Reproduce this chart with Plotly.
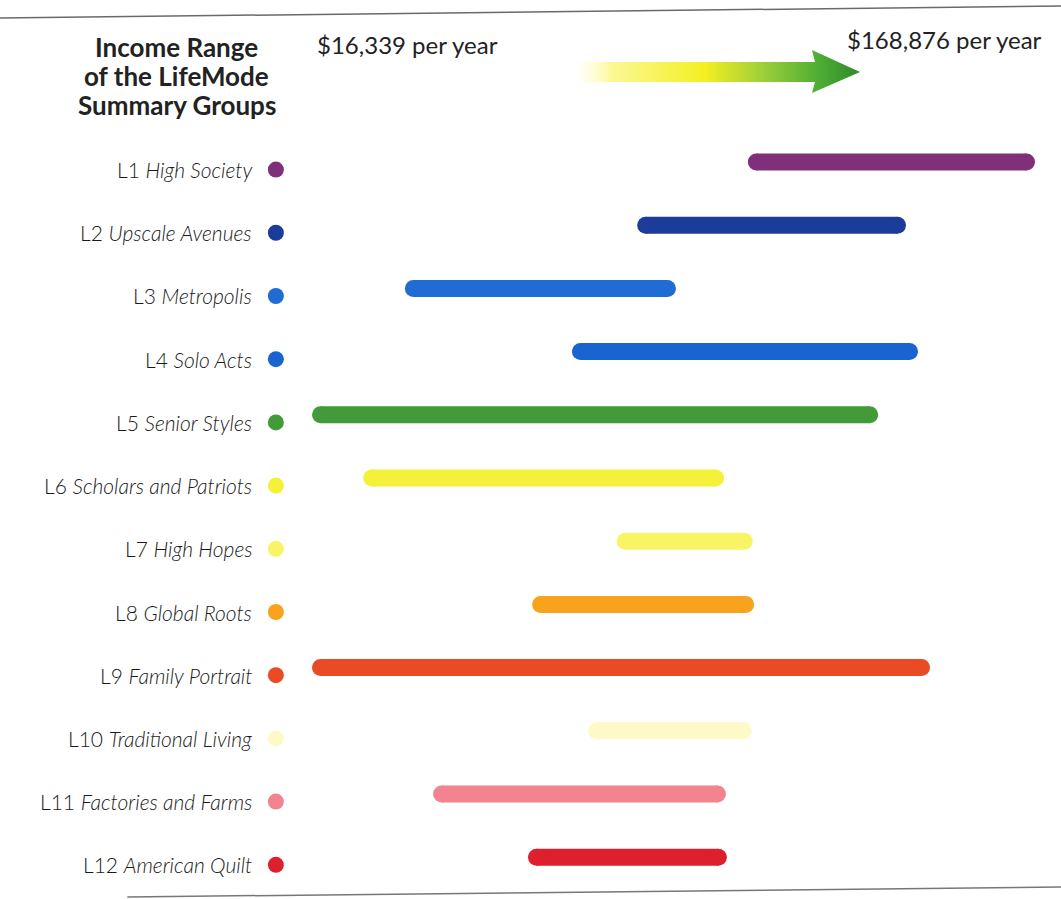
import plotly.graph_objects as go

# LifeMode summary groups and their income ranges (dollars per year)
groups = ["L1", "L2", "L3", "L4", "L5", "L6", "L7", "L8", "L9", "L10", "L11", "L12"]
names = [
    "High Society", "Upscale Avenues", "Metropolis", "Solo Acts", "Senior Styles",
    "Scholars and Patriots", "High Hopes", "Global Roots", "Family Portrait",
    "Traditional Living", "Factories and Farms", "American Quilt",
]
income_low = [110500, 86600, 36400, 72500, 16339, 27400, 82200, 63900, 16339, 76000, 42500, 63000]
income_high = [168876, 141000, 91300, 143600, 135000, 101700, 107900, 108200, 146200, 107700, 102100, 102300]
colors = [
    "#80307a", "#1b3c98", "#1f6cd4", "#1a64d2", "#429b38", "#f5f03a",
    "#f8f466", "#f8a21e", "#e94b24", "#fdfac8", "#f3848f", "#de1f2d",
]
title_lines = ["Income Range", "of the LifeMode", "Summary Groups"]
min_label = "$16,339 per year"
max_label = "$168,876 per year"

W, H = 1061, 899
rows = list(range(len(groups)))
label_drop = 0.12  # labels/dots sit a touch below the bars (scan tilt)

fig = go.Figure()

# range bars with round ends
for i, g in enumerate(groups):
    fig.add_trace(go.Scatter(
        x=[income_low[i], income_high[i]], y=[rows[i], rows[i]],
        mode="lines+markers",
        line=dict(color=colors[i], width=17),
        marker=dict(color=colors[i], size=17, line=dict(width=0)),
        hoverinfo="skip", showlegend=False,
    ))

# colour dots next to the labels
fig.add_trace(go.Scatter(
    x=[0.26] * len(groups), y=[r + label_drop for r in rows],
    xaxis="x2", yaxis="y",
    mode="markers",
    marker=dict(color=colors, size=16, line=dict(width=0)),
    hoverinfo="skip", showlegend=False,
))

# gradient arrow at the top
ax = [0.5448, 0.7681, 0.7653, 0.8106, 0.7653, 0.7681, 0.5448, 0.5448]
ay = [0.9310, 0.9310, 0.9444, 0.9199, 0.8966, 0.9088, 0.9088, 0.9310]
fig.add_trace(go.Scatter(
    x=ax, y=ay, xaxis="x2", yaxis="y2",
    mode="lines", fill="toself", line=dict(width=0),
    fillgradient=dict(
        type="horizontal",
        colorscale=[
            [0.0, "rgba(255,255,210,0.2)"],
            [0.12, "#fbf896"],
            [0.45, "#f3ef22"],
            [0.68, "#94cb3a"],
            [0.85, "#4fae34"],
            [1.0, "#2f8a2a"],
        ],
    ),
    hoverinfo="skip", showlegend=False,
))

for i, g in enumerate(groups):
    fig.add_annotation(
        x=0.2395, xref="paper", xanchor="right",
        y=rows[i] + label_drop, yref="y", yanchor="middle",
        text=f"{g} <i>{names[i]}</i>", showarrow=False,
        font=dict(family="Lato", size=21, weight=300, color="#1a1a1a"),
    )

for k, line in enumerate(title_lines):
    fig.add_annotation(
        x=0.1668, y=1 - (47 + 29 * k) / H, xref="paper", yref="paper",
        xanchor="center", yanchor="middle",
        text=f"<b>{line}</b>", showarrow=False,
        font=dict(family="Lato", size=26, color="#222222"),
    )
fig.add_annotation(
    x=315 / W, y=1 - 45 / H, xref="paper", yref="paper",
    xanchor="left", yanchor="middle", text=min_label, showarrow=False,
    font=dict(family="Lato", size=24, color="#222222"),
)
fig.add_annotation(
    x=845 / W, y=1 - 40 / H, xref="paper", yref="paper",
    xanchor="left", yanchor="middle", text=max_label, showarrow=False,
    font=dict(family="Lato", size=24, color="#222222"),
)

# page rules (scan is slightly tilted)
fig.add_shape(type="line", xref="paper", yref="paper",
              x0=0, y0=1 - 18 / H, x1=1, y1=1 - 6 / H,
              line=dict(color="#6a6a6a", width=1.5))
fig.add_shape(type="line", xref="paper", yref="paper",
              x0=0.12, y0=1 - 897 / H, x1=1, y1=1 - 887 / H,
              line=dict(color="#777777", width=1.5))

# dollar scale: $16,339 at the left cap centre, $168,876 at the right one
px_per_dollar = (1026.5 - 320.5) / (168876 - 16339)
x_min = 16339 - 320.5 / px_per_dollar
x_max = x_min + W / px_per_dollar

hidden = dict(visible=False, showgrid=False, zeroline=False)
fig.update_layout(
    width=W, height=H,
    margin=dict(l=0, r=0, t=0, b=0),
    paper_bgcolor="white", plot_bgcolor="white",
    xaxis=dict(range=[x_min, x_max], domain=[0, 1], **hidden),
    yaxis=dict(range=[11.661, -2.563], domain=[0, 1], **hidden),
    xaxis2=dict(range=[0, 1], overlaying="x", **hidden),
    yaxis2=dict(range=[0, 1], overlaying="y", **hidden),
    showlegend=False,
)

fig.write_html(
    "out.html",
    config={"displayModeBar": False},
    post_script="document.body.style.margin='0';",
)
